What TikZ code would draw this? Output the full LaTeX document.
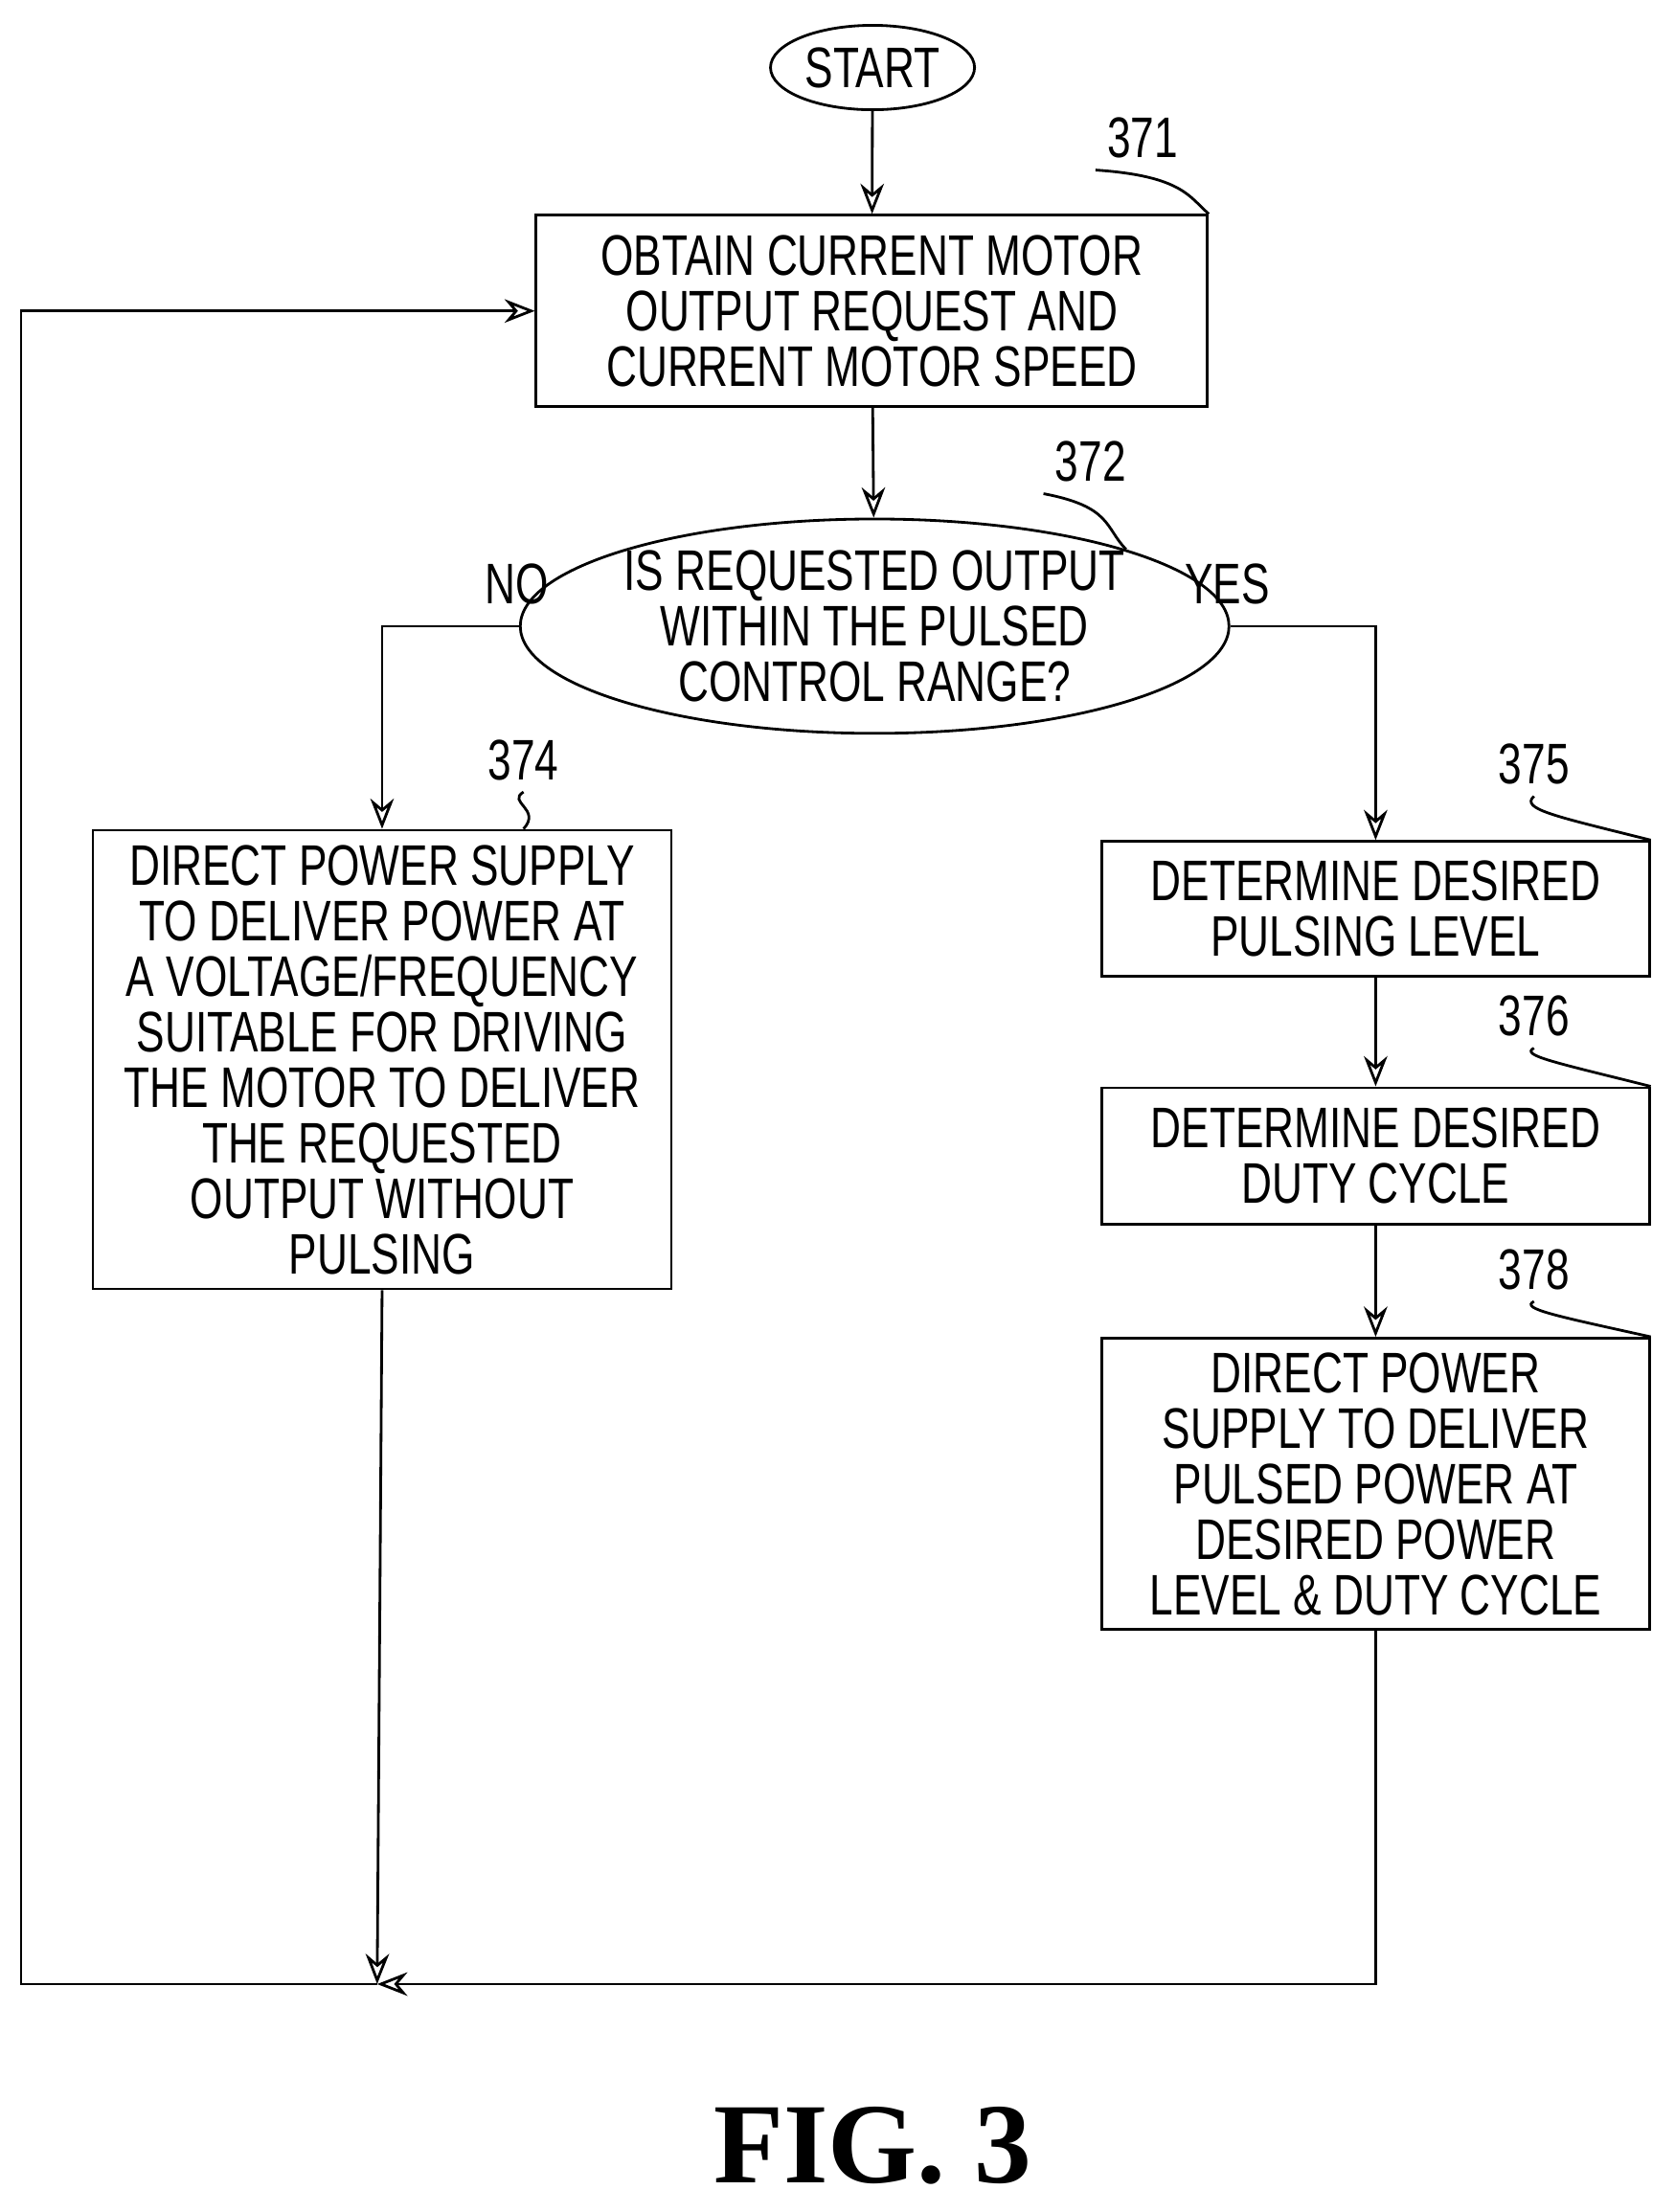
\documentclass[tikz,border=0pt]{standalone}
\usepackage{fontspec}
\setmainfont{Liberation Sans}[FakeStretch=0.74]
\newfontfamily\figfont{Liberation Serif}
\usetikzlibrary{shapes.geometric,arrows.meta}
\newcommand\pxu{0.01469cm}
\tikzstyle{process} = [rectangle, draw=black, thick, align=center, font=\fontsize{17}{16.5}\selectfont, inner sep=0pt]
\tikzstyle{decision} = [ellipse, draw=black, thick, align=center, font=\fontsize{17}{16.5}\selectfont, inner sep=0pt]
\tikzstyle{refnum} = [font=\fontsize{17}{17}\selectfont]
\tikzstyle{flow} = [thick, -{Stealth[open,length=9pt,width=7pt]}]

\begin{document}
\begin{tikzpicture}[x=0.01469cm, y=-0.01469cm]
    \useasboundingbox (0,0) rectangle (1190,1572);
	\node (Start) at (620,48) [decision, minimum width=145*\pxu, minimum height=60*\pxu] {START};
	\node (Obtain) at (619.5,221) [process, minimum width=477*\pxu, minimum height=136*\pxu] {OBTAIN CURRENT MOTOR\\OUTPUT REQUEST AND\\CURRENT MOTOR SPEED};
	\node (Check) at (621.5,445) [decision, minimum width=443*\pxu, minimum height=110*\pxu] {IS REQUESTED OUTPUT\\WITHIN THE PULSED\\CONTROL RANGE?};
	\node (Direct) at (271.5,753) [process, minimum width=411*\pxu, minimum height=326*\pxu] {DIRECT POWER SUPPLY\\TO DELIVER POWER AT\\A VOLTAGE/FREQUENCY\\SUITABLE FOR DRIVING\\THE MOTOR TO DELIVER\\THE REQUESTED\\OUTPUT WITHOUT\\PULSING};
	\node (Level) at (977.5,646) [process, minimum width=389*\pxu, minimum height=96*\pxu] {DETERMINE DESIRED\\PULSING LEVEL};
	\node (Duty) at (977.5,821.5) [process, minimum width=389*\pxu, minimum height=97*\pxu] {DETERMINE DESIRED\\DUTY CYCLE};
	\node (Pulsed) at (977.5,1054.5) [process, minimum width=389*\pxu, minimum height=207*\pxu] {DIRECT POWER\\SUPPLY TO DELIVER\\PULSED POWER AT\\DESIRED POWER\\LEVEL \& DUTY CYCLE};
	\node (No) at (367,415) [refnum] {NO};
	\node (Yes) at (872,415) [refnum] {YES};
	\node (L371) at (812,98) [refnum] {371};
	\node (L372) at (775,328) [refnum] {372};
	\node (L374) at (372,540) [refnum] {374};
	\node (L375) at (1090,543) [refnum] {375};
	\node (L376) at (1090,722) [refnum] {376};
	\node (L378) at (1090,902) [refnum] {378};
	\coordinate (Join) at (268,1410);
	\coordinate (Loop) at (15,1410);
	\node (Fig) at (620,1525) [font=\figfont\bfseries\fontsize{34}{34}\selectfont] {FIG. 3};
	% main flow
	\draw [flow] (Start) -- (Obtain);
	\draw [flow] (Obtain) -- (Check);
	\draw [flow] (Check.west) -| (Direct.north);
	\draw [flow] (Check.east) -| (Level.north);
	\draw [flow] (Level) -- (Duty);
	\draw [flow] (Duty) -- (Pulsed);
	\draw [flow] (Direct.south) -- (Join);
	\draw [flow] (Pulsed.south) |- (Join);
	\draw [flow] (Join) -- (Loop) |- (Obtain.west);
	% leaders
	\draw [thick] (L371.south west) .. controls (840,125) and (845,140) .. (Obtain.north east);
	\draw [thick] (L372.south west) .. controls (790,360) and (785,375) .. (Check.north east);
	\draw [thick] (L374.south) .. controls (360,570) and (385,575) .. (Direct.north -| 372,590);
	\draw [thick] (L375.south) .. controls (1080,575) and (1105,580) .. (Level.north east);
	\draw [thick] (L376.south) .. controls (1080,750) and (1105,755) .. (Duty.north east);
	\draw [thick] (L378.south) .. controls (1080,930) and (1105,935) .. (Pulsed.north east);
\end{tikzpicture}
\end{document}
